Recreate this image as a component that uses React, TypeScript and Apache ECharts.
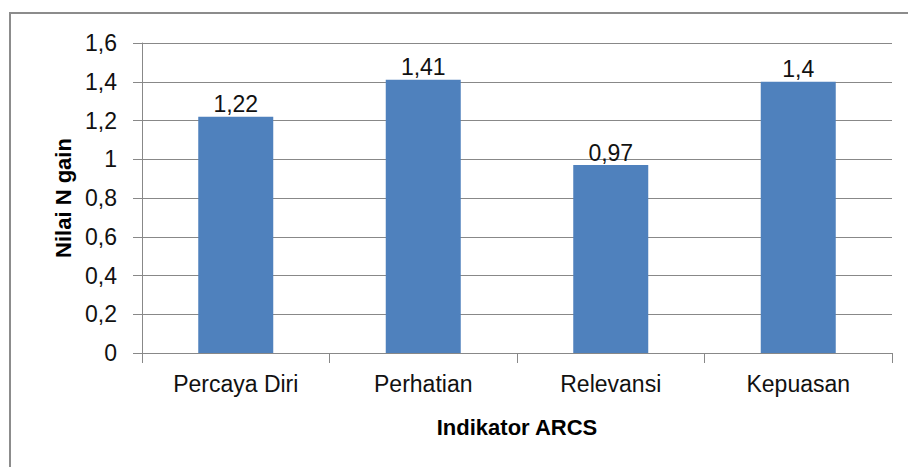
import React, { useEffect, useRef } from "react";
import * as echarts from "echarts";

const categories = ["Percaya Diri", "Perhatian", "Relevansi", "Kepuasan"];
const values = [1.22, 1.41, 0.97, 1.4];
const yTicks = [0, 0.2, 0.4, 0.6, 0.8, 1, 1.2, 1.4, 1.6];

const FONT = "'Liberation Sans', Arial, sans-serif";
const fmt = (v: number) => String(Math.round(v * 100) / 100).replace(".", ",");

export default function App() {
  const ref = useRef<HTMLDivElement>(null);
  useEffect(() => {
    if (!ref.current) return;
    const chart = echarts.init(ref.current, undefined, { renderer: "svg" });
    chart.setOption({
      animation: false,
      backgroundColor: "#ffffff",
      textStyle: { fontFamily: FONT },
      grid: { left: 142, top: 43, right: 16, bottom: 114 },
      graphic: [
        {
          type: "rect",
          shape: { x: 10, y: 13, width: 1000, height: 1000 },
          style: { fill: "none", stroke: "#8c8c8c", lineWidth: 2 },
          silent: true,
        },
      ],
      xAxis: {
        type: "category",
        data: categories,
        name: "Indikator ARCS",
        nameLocation: "middle",
        nameGap: 63,
        nameTextStyle: { fontFamily: FONT, fontSize: 22, fontWeight: "bold", color: "#000" },
        axisLine: { show: true, lineStyle: { color: "#888888", width: 1 } },
        axisTick: { show: true, length: 10, alignWithLabel: false, lineStyle: { color: "#888888" } },
        axisLabel: { fontFamily: FONT, fontSize: 23, color: "#111", margin: 19 },
        splitLine: { show: false },
      },
      yAxis: {
        type: "value",
        min: 0,
        max: 1.6,
        interval: 0.2,
        name: "Nilai N gain",
        nameLocation: "middle",
        nameRotate: 90,
        nameGap: 67,
        nameTextStyle: { fontFamily: FONT, fontSize: 22, fontWeight: "bold", color: "#000" },
        axisLine: { show: true, lineStyle: { color: "#888888", width: 1 } },
        axisTick: { show: true, inside: false, length: 9, lineStyle: { color: "#888888" } },
        axisLabel: {
          fontFamily: FONT,
          fontSize: 23,
          color: "#111",
          margin: 25,
          formatter: (v: number) => (yTicks.some((t) => Math.abs(t - v) < 1e-9) ? fmt(v) : ""),
        },
        splitLine: { show: true, lineStyle: { color: "#888888", width: 1 } },
      },
      series: [
        {
          type: "bar",
          data: values,
          barWidth: "40%",
          itemStyle: { color: "#4F81BD" },
          label: {
            show: true,
            position: "top",
            distance: 1,
            fontFamily: FONT,
            fontSize: 23,
            color: "#111",
            formatter: (p: any) => fmt(p.value),
          },
        },
      ],
    });
    return () => chart.dispose();
  }, []);
  return (
    <div
      ref={ref}
      style={{ position: "absolute", left: 0, top: 0, width: 908, height: 467 }}
    />
  );
}
